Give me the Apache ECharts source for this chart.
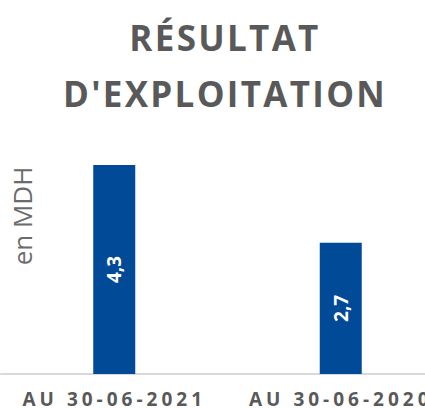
<!DOCTYPE html>
<html>
<head>
<meta charset="utf-8">
<script src="https://cdn.jsdelivr.net/npm/echarts@6/dist/echarts.min.js"></script>
<style>
  html, body { margin: 0; padding: 0; background: #fff; }
  #chart { width: 425px; height: 408px; }
</style>
</head>
<body>
<div id="chart"></div>
<script>
var categories = ['AU 30-06-2021', 'AU 30-06-2020'];
var values = [4.3, 2.7];
var titleLines = ['RÉSULTAT', "D'EXPLOITATION"];
var unitLabel = 'en MDH';

var myChart = echarts.init(document.getElementById('chart'), null, { renderer: 'svg' });

var option = {
    animation: false,
    title: {
        text: titleLines.join('\n'),
        left: 220,
        top: 4,
        textAlign: 'center',
        textStyle: {
            fontFamily: 'Open Sans',
            fontWeight: 'bold',
            fontSize: 35,
            lineHeight: 56,
            color: '#595959'
        }
    },
    graphic: [{
        type: 'text',
        x: 22,
        y: 216,
        rotation: Math.PI / 2,
        style: {
            text: unitLabel,
            font: '26px "Open Sans"',
            fill: '#6b6b6b',
            align: 'center',
            verticalAlign: 'middle'
        }
    }],
    grid: {
        left: 1,
        width: 453,
        top: 131,
        bottom: 34,
        containLabel: false,
        outerBoundsMode: 'none'
    },
    xAxis: {
        type: 'category',
        data: categories,
        axisTick: { show: false },
        axisLine: { lineStyle: { color: '#d9d9d9', width: 2 } },
        axisLabel: {
            interval: 0,
            margin: 15,
            lineHeight: 19,
            fontFamily: 'Open Sans',
            fontWeight: 'bold',
            fontSize: 19,
            color: '#595959'
        }
    },
    yAxis: {
        type: 'value',
        min: 0,
        max: 5,
        show: false
    },
    series: [{
        type: 'bar',
        data: values,
        barWidth: 42,
        itemStyle: { color: '#004a98' },
        label: {
            show: true,
            position: 'inside',
            rotate: 90,
            fontFamily: 'Open Sans',
            fontWeight: 'bold',
            fontSize: 19,
            color: '#ffffff',
            formatter: function(p) {
                return String(p.value).replace('.', ',');
            }
        }
    }]
};
myChart.setOption(option);

// spacing between letters, like the original slide
function spaceLetters() {
    var texts = document.querySelectorAll('#chart text');
    texts.forEach(function(t) {
        var s = t.textContent;
        if (titleLines.indexOf(s) >= 0) {
            t.setAttribute('letter-spacing', '2.3px');
        } else if (categories.indexOf(s) >= 0) {
            t.setAttribute('letter-spacing', '4px');
        }
    });
}
spaceLetters();
myChart.on('finished', spaceLetters);
</script>
</body>
</html>
